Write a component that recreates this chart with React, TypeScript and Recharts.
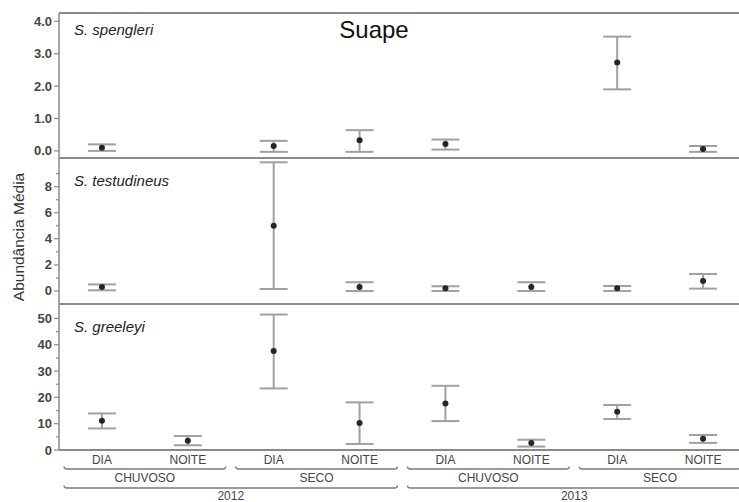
import { ComposedChart, ErrorBar, Line, ReferenceLine, XAxis, YAxis } from 'recharts'

// categories (bottom axis: period, then season, then year)
const PERIODS = ['DIA', 'NOITE', 'DIA', 'NOITE', 'DIA', 'NOITE', 'DIA', 'NOITE']
const SEASONS = ['CHUVOSO', 'SECO', 'CHUVOSO', 'SECO']
const YEARS = ['2012', '2013']

// S. spengleri
const SPENGLERI_MEAN = [0.1, null, 0.15, 0.33, 0.21, null, 2.73, 0.06]
const SPENGLERI_LOW = [0.0, null, -0.03, -0.03, 0.04, null, 1.9, -0.03]
const SPENGLERI_HIGH = [0.2, null, 0.31, 0.64, 0.35, null, 3.53, 0.15]

// S. testudineus
const TESTUDINEUS_MEAN = [0.3, null, 5.0, 0.3, 0.2, 0.3, 0.2, 0.77]
const TESTUDINEUS_LOW = [0.05, null, 0.15, 0.0, 0.0, 0.0, 0.0, 0.18]
const TESTUDINEUS_HIGH = [0.5, null, 9.87, 0.67, 0.36, 0.67, 0.38, 1.3]

// S. greeleyi
const GREELEYI_MEAN = [11.1, 3.5, 37.6, 10.3, 17.7, 2.7, 14.5, 4.3]
const GREELEYI_LOW = [8.2, 1.8, 23.4, 2.3, 11.0, 1.3, 11.8, 2.7]
const GREELEYI_HIGH = [13.9, 5.3, 51.5, 18.1, 24.4, 3.9, 17.1, 5.7]

// y ticks
const SPENGLERI_TICKS = [0, 1, 2, 3, 4]
const TESTUDINEUS_TICKS = [0, 1, 2, 3, 4, 5, 6, 7, 8, 9]
const TESTUDINEUS_MAJOR = [0, 2, 4, 6, 8]
const GREELEYI_TICKS = [0, 5, 10, 15, 20, 25, 30, 35, 40, 45, 50]
const GREELEYI_MAJOR = [0, 10, 20, 30, 40, 50]

const FONT = '"Liberation Sans", Arial, sans-serif'
const FRAME = '#8a8a8a'
const BAR = '#a0a0a0'
const INK = '#454545'

const CHART_W = 760
const Y_AXIS_W = 59
const RIGHT = 14
const BAND = (CHART_W - Y_AXIS_W - RIGHT) / PERIODS.length

function rows(mean: (number | null)[], low: (number | null)[], high: (number | null)[]) {
  return PERIODS.map((p, i) => {
    const m = mean[i]
    return {
      period: p,
      mean: m,
      err: m == null ? null : [m - (low[i] as number), (high[i] as number) - m],
    }
  })
}

function yTick(major: number[] | null, fmt: (v: number) => string) {
  return (props: any) => {
    const { x, y, payload } = props
    const v = payload.value as number
    const isMajor = major == null || major.includes(v)
    return (
      <g>
        <line x1={x - (isMajor ? 5 : 3)} x2={x} y1={y} y2={y} stroke={FRAME} strokeWidth={1.2} />
        {isMajor && (
          <text x={x - 7} y={y} dy={4.5} textAnchor="end" fontSize={13} fontWeight={600} fill={INK} fontFamily={FONT}>
            {fmt(v)}
          </text>
        )}
      </g>
    )
  }
}

function bracket(x0: number, x1: number, y: number) {
  return (
    <path
      d={`M${x0} ${y - 2.5} Q${x0} ${y} ${x0 + 3} ${y} L${x1 - 3} ${y} Q${x1} ${y} ${x1} ${y - 2.5}`}
      stroke="#7a7a7a"
      strokeWidth={1.3}
      fill="none"
    />
  )
}

function xTick(props: any) {
  const { x, y, index, payload } = props
  const inset = 5
  return (
    <g fontFamily={FONT} fill={INK} fontSize={12}>
      <text x={x} y={y + 14} textAnchor="middle">{payload.value}</text>
      {index % 2 === 0 && (
        <g>
          {bracket(x - BAND / 2 + inset, x + 1.5 * BAND - inset, y + 19)}
          <text x={x + BAND / 2} y={y + 32} textAnchor="middle">{SEASONS[index / 2]}</text>
        </g>
      )}
      {index % 4 === 0 && (
        <g>
          {bracket(x - BAND / 2 + inset, x + 3.5 * BAND - inset, y + 38)}
          <text x={x + 1.5 * BAND} y={y + 50} textAnchor="middle">{YEARS[index / 4]}</text>
        </g>
      )}
    </g>
  )
}

function Panel(props: {
  data: any[]
  domain: [number, number]
  ticks: number[]
  major: number[] | null
  fmt: (v: number) => string
  height: number
  margin: { top: number; bottom: number }
  bottomAxis?: boolean
}) {
  const [lo, hi] = props.domain
  return (
    <ComposedChart
      width={CHART_W}
      height={props.height}
      data={props.data}
      margin={{ top: props.margin.top, bottom: props.margin.bottom, left: 0, right: RIGHT }}
    >
      <XAxis
        dataKey="period"
        hide={!props.bottomAxis}
        height={52}
        interval={0}
        padding={{ left: BAND / 2, right: BAND / 2 }}
        tickSize={0}
        tickMargin={0}
        tickLine={false}
        axisLine={{ stroke: FRAME, strokeWidth: 2 }}
        tick={xTick}
      />
      <YAxis
        type="number"
        width={Y_AXIS_W}
        domain={props.domain}
        allowDataOverflow
        ticks={props.ticks}
        interval={0}
        tickSize={0}
        tickMargin={0}
        tickLine={false}
        axisLine={{ stroke: FRAME, strokeWidth: 1.5 }}
        tick={yTick(props.major, props.fmt)}
      />
      <ReferenceLine y={hi} stroke={FRAME} strokeWidth={2} ifOverflow="visible" />
      {!props.bottomAxis && <ReferenceLine y={lo} stroke={FRAME} strokeWidth={2} ifOverflow="visible" />}
      <Line
        dataKey="mean"
        stroke="none"
        dot={{ r: 3, fill: '#262626', stroke: 'none' }}
        activeDot={false}
        isAnimationActive={false}
      >
        <ErrorBar dataKey="err" direction="y" width={14} stroke={BAR} strokeWidth={2} />
      </Line>
    </ComposedChart>
  )
}

export default function App() {
  return (
    <div style={{ position: 'absolute', left: 0, top: 0, width: 739, height: 502, overflow: 'hidden', background: '#fff' }}>
      <div style={{ position: 'absolute', left: 0, top: 0 }}>
        <Panel
          data={rows(SPENGLERI_MEAN, SPENGLERI_LOW, SPENGLERI_HIGH)}
          domain={[-0.22, 4.26]}
          ticks={SPENGLERI_TICKS}
          major={null}
          fmt={(v) => v.toFixed(1)}
          height={160}
          margin={{ top: 13, bottom: 2 }}
        />
      </div>
      <div style={{ position: 'absolute', left: 0, top: 150 }}>
        <Panel
          data={rows(TESTUDINEUS_MEAN, TESTUDINEUS_LOW, TESTUDINEUS_HIGH)}
          domain={[-1.0, 10.2]}
          ticks={TESTUDINEUS_TICKS}
          major={TESTUDINEUS_MAJOR}
          fmt={(v) => String(v)}
          height={160}
          margin={{ top: 8, bottom: 6 }}
        />
      </div>
      <div style={{ position: 'absolute', left: 0, top: 296 }}>
        <Panel
          data={rows(GREELEYI_MEAN, GREELEYI_LOW, GREELEYI_HIGH)}
          domain={[0, 55.5]}
          ticks={GREELEYI_TICKS}
          major={GREELEYI_MAJOR}
          fmt={(v) => String(v)}
          height={206}
          margin={{ top: 8, bottom: 0 }}
          bottomAxis
        />
      </div>
      <svg width={739} height={502} style={{ position: 'absolute', left: 0, top: 0, pointerEvents: 'none' }} fontFamily={FONT}>
        <text x={374} y={38} textAnchor="middle" fontSize={24} fill="#111">Suape</text>
        <text x={74} y={35} fontSize={15} fontStyle="italic" fill="#222">S. spengleri</text>
        <text x={74} y={186} fontSize={15} fontStyle="italic" fill="#222">S. testudineus</text>
        <text x={74} y={332} fontSize={15} fontStyle="italic" fill="#222">S. greeleyi</text>
        <text x={24} y={237} transform="rotate(-90 24 237)" textAnchor="middle" fontSize={15.5} fill="#333">
          Abundância Média
        </text>
      </svg>
    </div>
  )
}
